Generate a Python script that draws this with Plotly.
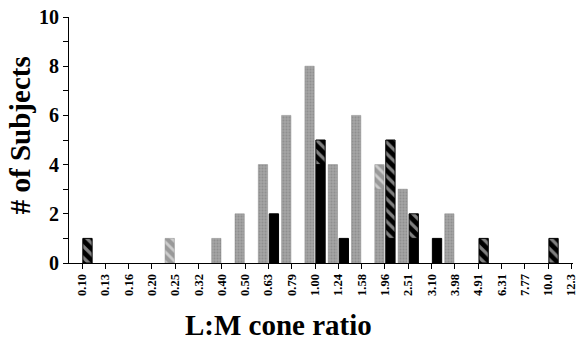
import plotly.graph_objects as go

categories = ["0.10", "0.13", "0.16", "0.20", "0.25", "0.32", "0.40", "0.50", "0.63", "0.79",
              "1.00", "1.24", "1.58", "1.96", "2.51", "3.10", "3.98", "4.91", "6.31", "7.77",
              "10.0", "12.3"]
gray_solid   = [0, 0, 0, 0, 0, 0, 1, 2, 4, 6, 8, 4, 6, 3, 3, 0, 2, 0, 0, 0, 0, 0]
gray_hatched = [0, 0, 0, 0, 1, 0, 0, 0, 0, 0, 0, 0, 0, 1, 0, 0, 0, 0, 0, 0, 0, 0]
black_solid  = [0, 0, 0, 0, 0, 0, 0, 0, 2, 0, 4, 1, 0, 1, 1, 1, 0, 0, 0, 0, 0, 0]
black_hatched= [1, 0, 0, 0, 0, 0, 0, 0, 0, 0, 1, 0, 0, 4, 1, 0, 0, 1, 0, 0, 1, 0]
y_ticks = list(range(0, 11))
y_tick_labels = [str(v) if v % 2 == 0 else "" for v in y_ticks]

FONT = "Liberation Serif"
GRAY = "#9a9a9a"


def nz(vals):
    return [v if v else None for v in vals]


fig = go.Figure()
fig.add_bar(x=categories, y=nz(gray_solid), offsetgroup="g",
            marker=dict(color=GRAY, line=dict(color="#888888", width=0.5),
                        pattern=dict(shape=".", fgcolor="#7a7a7a", bgcolor="#a4a4a4",
                                     size=3, solidity=0.35)))
fig.add_bar(x=categories, y=nz(gray_hatched), base=gray_solid, offsetgroup="g",
            marker=dict(color=GRAY, line=dict(color="#888888", width=0.5),
                        pattern=dict(shape="\\", fgcolor="white", bgcolor="#999999",
                                     size=7, solidity=0.4)))
fig.add_bar(x=categories, y=nz(black_solid), offsetgroup="b",
            marker=dict(color="black", line=dict(color="black", width=1)))
fig.add_bar(x=categories, y=nz(black_hatched), base=black_solid, offsetgroup="b",
            marker=dict(color="black", line=dict(color="black", width=1),
                        pattern=dict(shape="\\", fgcolor="white", bgcolor="black",
                                     size=8, solidity=0.4)))

fig.update_layout(
    width=577, height=346,
    margin=dict(l=69, r=4, t=17, b=83, autoexpand=False),
    barmode="group", bargap=0.06, bargroupgap=0.15,
    plot_bgcolor="white", paper_bgcolor="white",
    showlegend=False,
    font=dict(family=FONT, color="black"),
)
fig.update_xaxes(
    type="category", range=[-0.558, 21.07], automargin=False,
    showline=True, linecolor="black", linewidth=1,
    ticks="outside", ticklen=5, tickcolor="black",
    tickangle=-90, tickfont=dict(family=FONT, size=12.5, weight=700),
    showgrid=False, zeroline=False,
)
fig.update_yaxes(
    range=[0, 10], tickvals=y_ticks, ticktext=y_tick_labels, automargin=False,
    showline=True, linecolor="black", linewidth=1,
    ticks="outside", ticklen=5, tickcolor="black",
    tickfont=dict(family=FONT, size=20, weight=700),
    showgrid=False, zeroline=False,
)
fig.add_annotation(text="# of Subjects", xref="paper", yref="paper",
                   x=-0.097, y=0.52, textangle=-90, showarrow=False,
                   xanchor="center", yanchor="middle",
                   font=dict(family=FONT, size=29, weight=700))
fig.add_annotation(text="L:M cone ratio", xref="paper", yref="paper",
                   x=0.415, y=-0.252, showarrow=False,
                   xanchor="center", yanchor="middle",
                   font=dict(family=FONT, size=29, weight=700))

fig.write_html("out.html", config={"displayModeBar": False},
               post_script="document.body.style.margin='0';document.body.style.overflow='hidden';")
